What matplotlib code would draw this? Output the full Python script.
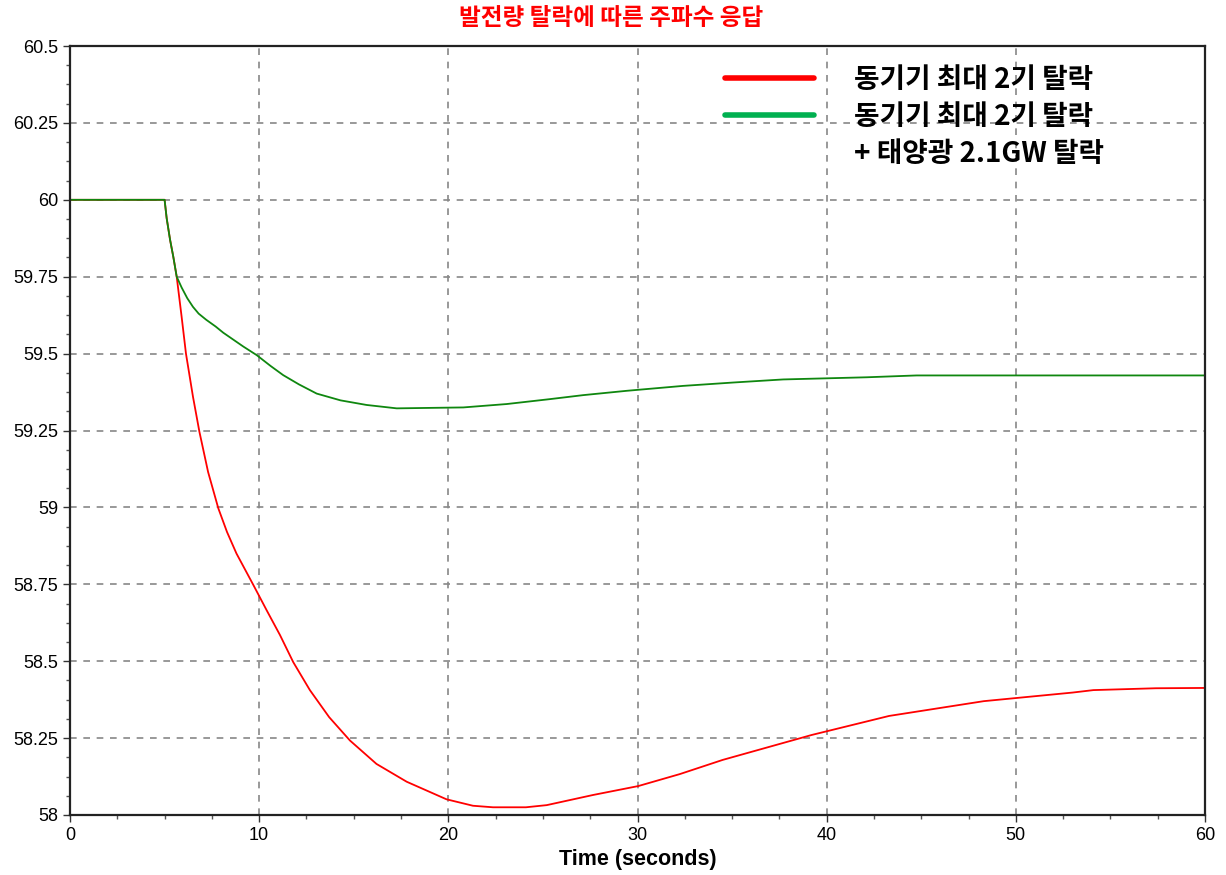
import matplotlib.pyplot as plt
from matplotlib.lines import Line2D
from matplotlib.ticker import MultipleLocator

# Korean text needs a CJK family, latin falls back to Liberation Sans
plt.rcParams['font.family'] = ['Liberation Sans', 'Noto Sans CJK KR', 'DejaVu Sans']

title = '발전량 탈락에 따른 주파수 응답'
label_red = '동기기 최대 2기 탈락'
label_green = '동기기 최대 2기 탈락'
label_green2 = '+ 태양광 2.1GW 탈락'

# frequency after losing two synchronous units
t_red = [0, 5.0, 5.11, 5.29, 5.46, 5.64, 5.9, 6.13, 6.5, 6.84, 7.3, 7.84, 8.3,
         8.8, 9.69, 10.4, 11.1, 11.8, 12.68, 13.7, 14.8, 16.2, 17.8, 19.9, 21.3,
         22.36, 24.1, 25.2, 27.65, 30.04, 32.24, 34.5, 39.2, 43.3, 48.3, 53.0,
         54.1, 57.4, 60]
f_red = [60.0, 60.0, 59.94, 59.87, 59.815, 59.75, 59.62, 59.5, 59.36, 59.246,
         59.115, 58.997, 58.92, 58.85, 58.748, 58.665, 58.585, 58.497, 58.406,
         58.318, 58.242, 58.166, 58.108, 58.051, 58.03, 58.025, 58.025, 58.032,
         58.065, 58.094, 58.133, 58.179, 58.26, 58.322, 58.37, 58.398, 58.406,
         58.412, 58.413]

# frequency after losing two units plus 2.1 GW of solar
t_green = [0, 5.0, 5.11, 5.29, 5.46, 5.64, 5.9, 6.2, 6.5, 6.8, 7.2, 7.7, 8.1,
           9.16, 9.87, 10.6, 11.27, 12.1, 13.04, 14.3, 15.68, 17.27, 20.79, 23.08,
           25.37, 27.13, 29.42, 32.4, 35.06, 37.7, 42.1, 44.75, 60]
f_green = [60.0, 60.0, 59.94, 59.87, 59.815, 59.75, 59.715, 59.68, 59.652, 59.63,
           59.61, 59.588, 59.568, 59.523, 59.495, 59.46, 59.43, 59.40, 59.37,
           59.348, 59.333, 59.322, 59.325, 59.336, 59.352, 59.365, 59.379, 59.395,
           59.406, 59.416, 59.423, 59.429, 59.429]

fig = plt.figure(figsize=(12.26, 8.75), dpi=100)
ax = fig.add_axes([0.0571, 0.0686, 0.9258, 0.8788])

ax.plot(t_red, f_red, color='#ff0000', linewidth=1.3)
ax.plot(t_green, f_green, color='#0f870f', linewidth=1.3)

ax.set_xlim(0, 60)
ax.set_ylim(58, 60.5)
ax.xaxis.set_major_locator(MultipleLocator(10))
ax.xaxis.set_minor_locator(MultipleLocator(2.5))
ax.yaxis.set_minor_locator(MultipleLocator(0.0625))
ax.set_yticks([58, 58.25, 58.5, 58.75, 59, 59.25, 59.5, 59.75, 60, 60.25, 60.5])
ax.set_yticklabels(['58', '58.25', '58.5', '58.75', '59', '59.25', '59.5',
                    '59.75', '60', '60.25', '60.5'])

ax.grid(True, which='major', color='#888888', linestyle=(0, (4, 4)), linewidth=1.2)
ax.tick_params(which='major', direction='out', length=5, width=1, labelsize=13,
               colors='#333333', labelcolor='black')
ax.tick_params(which='minor', direction='out', length=3, width=1, colors='#555555')
for s in ax.spines.values():
    s.set_linewidth(1.6)
    s.set_color('#222222')

ax.set_xlabel('Time (seconds)', fontsize=15.5, fontweight='bold', labelpad=4)
# title is centred on the figure, not the axes
fig.text(0.4985, 0.979, title, color='#ff0000', fontsize=17, fontweight='bold',
         family=['Noto Sans CJK KR'], ha='center', va='center')

handles = [Line2D([], [], color='#ff0000', linewidth=4, solid_capstyle='round'),
           Line2D([], [], color='#00b050', linewidth=4, solid_capstyle='round'),
           Line2D([], [], color='none')]
leg = ax.legend(handles, [label_red, label_green, label_green2],
                loc='upper left', bbox_to_anchor=(0.555, 1.007), frameon=False,
                handlelength=3.2, handletextpad=1.45, labelspacing=0.33,
                prop={'family': ['Noto Sans CJK KR'], 'weight': 'bold', 'size': 20})

fig.savefig('out.png', dpi=100)
